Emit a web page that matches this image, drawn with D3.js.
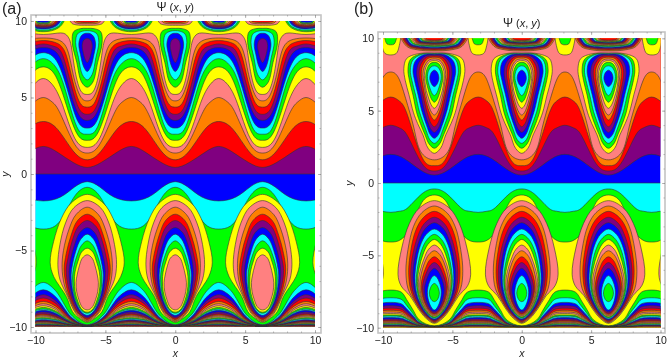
<!DOCTYPE html>
<html>
<head>
<meta charset="utf-8">
<script src="https://cdn.jsdelivr.net/npm/d3@7"></script>
<style>
html, body { margin: 0; padding: 0; background: #fff; }
svg { display: block; filter: blur(0.35px); font-family: "Liberation Sans", Arial, sans-serif; }
</style>
</head>
<body>
<svg id="chart" width="667" height="360"></svg>
<script>
const xTicks = [-10, -5, 0, 5, 10]
const yTicks = [-10, -5, 0, 5, 10]
const minorTicks = d3.range(-10, 11)

// x of the island columns and of the crests between them
const islandCenters = [-12.6, -6.3, 0, 6.25, 12.5]
const crestCenters = [-9.45, -3.15, 3.12, 9.4]

// every curve below is one half period: [distance from island centre, y]
// panel (a), wavy levels above y = 0, each fills upwards
const aUpperNames = ['red', 'orange', 'pink', 'yellow', 'green', 'cyan', 'blue', 'purple', 'red', 'orange', 'pink', 'yellow']
const aUpperCurves = [
    [[0, .43], [1, .75], [2.1, 1.4], [3.14, 1.8]],
    [[0, .93], [1, 1.5], [2.1, 2.9], [3.14, 3.43]],
    [[0, 1.37], [.9, 1.95], [1.9, 3.9], [2.5, 4.7], [3.14, 5]],
    [[0, 1.74], [.9, 2.35], [1.8, 4.6], [2.5, 5.85], [3.14, 6.24]],
    [[0, 2.2], [.8, 2.75], [1.7, 5.1], [2.4, 6.6], [3.14, 7]],
    [[0, 2.6], [.75, 3.1], [1.6, 5.6], [2.3, 7.05], [3.14, 7.54]],
    [[0, 3], [.7, 3.5], [1.45, 5.6], [2.2, 7.4], [3.14, 7.93]],
    [[0, 3.5], [.65, 3.95], [1.3, 5.7], [2, 7.7], [3.14, 8.26]],
    [[0, 3.9], [.6, 4.3], [1.2, 6], [1.8, 7.85], [2.4, 8.35], [3.14, 8.5]],
    [[0, 4.37], [.55, 4.7], [1.1, 6.3], [1.6, 8], [2.3, 8.6], [3.14, 8.72]],
    [[0, 4.78], [.5, 5.1], [1, 6.5], [1.45, 8.2], [2.2, 8.8], [3.14, 8.89]],
    [[0, 5.2], [.5, 5.5], [.9, 6.9], [1.15, 8.4], [1.4, 9], [1.9, 9.22], [3.14, 9.12]]
]
// closed islands in the troughs of (a)
const aUpperLoopNames = ['green', 'cyan', 'blue', 'purple']
const aUpperLoops = [
    [[0, 5.67], [.4, 6], [.75, 7.3], [1.07, 8.6], [.97, 9.3], [.5, 9.5], [0, 9.52]],
    [[0, 6.15], [.35, 6.5], [.62, 7.6], [.83, 8.6], [.7, 9.15], [.35, 9.33], [0, 9.37]],
    [[0, 6.7], [.25, 7], [.48, 7.8], [.6, 8.5], [.45, 9], [.2, 9.18], [0, 9.2]],
    [[0, 7.28], [.15, 7.5], [.3, 8], [.36, 8.4], [.25, 8.75], [0, 8.85]]
]
// small caps on the top edge above the islands of (a)
const aCapNames = ['pink', 'orange', 'red']
const aCaps = [
    [[0, 9.72], [.8, 9.75], [1.1, 9.85], [1.3, 10.3]],
    [[0, 9.82], [.7, 9.85], [.9, 9.93], [1.05, 10.3]],
    [[0, 9.9], [.6, 9.93], [.8, 10], [.9, 10.3]]
]
// rainbow lobes on the top edge above the crests of (a)
const aLobeNames = ['green', 'cyan', 'blue', 'purple', 'red', 'orange', 'pink', 'yellow', 'green', 'cyan', 'blue']
const aLobes = [
    [[0, 9.3], [.8, 9.42], [1.3, 9.72], [1.55, 10.3]],
    [[0, 9.4], [.75, 9.5], [1.2, 9.76], [1.42, 10.3]],
    [[0, 9.48], [.7, 9.58], [1.1, 9.8], [1.3, 10.3]],
    [[0, 9.56], [.65, 9.64], [1, 9.84], [1.18, 10.3]],
    [[0, 9.64], [.6, 9.7], [.9, 9.86], [1.06, 10.3]],
    [[0, 9.7], [.55, 9.75], [.8, 9.88], [.95, 10.3]],
    [[0, 9.75], [.5, 9.8], [.7, 9.9], [.85, 10.3]],
    [[0, 9.79], [.45, 9.83], [.6, 9.92], [.75, 10.3]],
    [[0, 9.83], [.4, 9.86], [.5, 9.94], [.65, 10.3]],
    [[0, 9.87], [.35, 9.9], [.45, 9.96], [.55, 10.3]],
    [[0, 9.91], [.3, 9.93], [.4, 9.97], [.45, 10.3]]
]
// panel (a) below y = 0, each fills downwards
const aLowerNames = ['cyan', 'green']
const aLowerCurves = [
    [[0, -.5], [.9, -.85], [1.9, -1.5], [3.14, -1.76]],
    [[0, -.87], [.9, -1.45], [1.6, -2.6], [2.3, -3.4], [3.14, -3.6]]
]
const aBottomDx = [0, 1.05, 1.5, 2, 2.4, 3.14]
const aBottomNames = ['cyan', 'blue', 'purple', 'red', 'orange', 'pink', 'yellow', 'green', 'cyan', 'blue', 'purple', 'red', 'orange', 'pink', 'yellow', 'green', 'cyan', 'blue', 'purple', 'red', 'orange', 'pink', 'yellow', 'green', 'cyan', 'blue', 'purple', 'red', 'orange', 'pink']
const aBottomY = [
    [-9.85, -9.3, -8.75, -7.96, -7.5, -7.09],
    [-9.88, -9.42, -8.96, -8.3, -7.91, -7.57],
    [-9.89, -9.49, -9.09, -8.52, -8.19, -7.89],
    [-9.91, -9.55, -9.19, -8.68, -8.37, -8.11],
    [-9.92, -9.6, -9.28, -8.83, -8.56, -8.33],
    [-9.92, -9.64, -9.35, -8.94, -8.69, -8.48],
    [-9.93, -9.67, -9.4, -9.03, -8.8, -8.61],
    [-9.94, -9.69, -9.45, -9.1, -8.9, -8.72],
    [-9.94, -9.72, -9.5, -9.18, -8.99, -8.83],
    [-9.95, -9.74, -9.53, -9.24, -9.06, -8.91],
    [-9.95, -9.76, -9.58, -9.31, -9.16, -9.02],
    [-9.96, -9.79, -9.63, -9.39, -9.25, -9.13],
    [-9.96, -9.81, -9.66, -9.44, -9.31, -9.2],
    [-9.96, -9.82, -9.68, -9.48, -9.36, -9.26],
    [-9.97, -9.84, -9.71, -9.53, -9.42, -9.33],
    [-9.97, -9.85, -9.74, -9.57, -9.48, -9.39],
    [-9.97, -9.87, -9.76, -9.61, -9.53, -9.45],
    [-9.98, -9.88, -9.79, -9.66, -9.59, -9.52],
    [-9.98, -9.9, -9.82, -9.71, -9.64, -9.58],
    [-9.98, -9.91, -9.84, -9.74, -9.68, -9.63],
    [-9.98, -9.92, -9.86, -9.77, -9.72, -9.67],
    [-9.99, -9.93, -9.88, -9.8, -9.75, -9.71],
    [-9.99, -9.94, -9.89, -9.82, -9.78, -9.75],
    [-9.99, -9.95, -9.91, -9.85, -9.82, -9.79],
    [-9.99, -9.96, -9.92, -9.87, -9.85, -9.82],
    [-9.99, -9.96, -9.94, -9.9, -9.87, -9.85],
    [-9.99, -9.97, -9.95, -9.92, -9.9, -9.88],
    [-10, -9.98, -9.96, -9.94, -9.92, -9.91],
    [-10, -9.99, -9.97, -9.96, -9.95, -9.94],
    [-10, -9.99, -9.99, -9.98, -9.97, -9.97]
]
const aLowerLoopNames = ['yellow', 'pink', 'orange', 'red', 'purple', 'blue', 'cyan', 'green', 'yellow', 'pink']
const aLowerLoops = [
    [[0, -1.33], [1.15, -1.9], [1.85, -2.9], [2.4, -4.4], [2.65, -5.8], [2.4, -6.7], [1.5, -8], [1.05, -9], [.6, -9.4], [0, -9.7]],
    [[0, -1.74], [.95, -2.2], [1.55, -3.2], [1.95, -4.6], [2.1, -5.9], [1.95, -6.9], [1.4, -8], [.9, -9], [.5, -9.4], [0, -9.65]],
    [[0, -2.17], [.8, -2.65], [1.3, -3.6], [1.7, -5], [1.8, -6.1], [1.65, -7.2], [1.25, -8.2], [.8, -9.05], [.45, -9.35], [0, -9.6]],
    [[0, -2.63], [.7, -3.05], [1.15, -4], [1.5, -5.2], [1.65, -6.2], [1.5, -7.3], [1.15, -8.3], [.75, -9], [.4, -9.3], [0, -9.52]],
    [[0, -3.04], [.65, -3.45], [1.05, -4.3], [1.35, -5.4], [1.5, -6.3], [1.35, -7.4], [1.05, -8.3], [.7, -8.95], [.37, -9.27], [0, -9.43]],
    [[0, -3.5], [.55, -3.85], [.9, -4.6], [1.2, -5.6], [1.3, -6.4], [1.2, -7.5], [.95, -8.3], [.62, -8.9], [.33, -9.2], [0, -9.35]],
    [[0, -3.93], [.45, -4.25], [.8, -5], [1.05, -5.9], [1.15, -6.6], [1.05, -7.6], [.85, -8.3], [.55, -8.85], [.3, -9.12], [0, -9.24]],
    [[0, -4.37], [.4, -4.65], [.72, -5.3], [.97, -6.1], [1.05, -6.8], [.97, -7.7], [.78, -8.35], [.5, -8.8], [.27, -9.02], [0, -9.1]],
    [[0, -4.85], [.4, -5.1], [.66, -5.7], [.87, -6.4], [.92, -7], [.86, -7.7], [.68, -8.3], [.45, -8.78], [.22, -8.98], [0, -9.03]],
    [[0, -5.28], [.35, -5.5], [.56, -6], [.72, -6.6], [.8, -7.1], [.75, -7.7], [.6, -8.2], [.4, -8.65], [.2, -8.83], [0, -8.88]]
]

// panel (b)
const bUpperNames = ['purple', 'red', 'orange', 'pink']
const bUpperCurves = [
    [[0, .55], [1, .9], [2.1, 1.65], [3.14, 1.98]],
    [[0, .83], [.9, 1.35], [1.9, 3.2], [2.5, 3.8], [3.14, 3.99]],
    [[0, 1.2], [.9, 1.8], [1.9, 4.6], [2.5, 5.65], [3.14, 5.94]],
    [[0, 1.6], [1, 2.2], [1.47, 3.8], [2.07, 5.85], [2.6, 7.3], [3.14, 7.67]]
]
const bUpperLoopNames = ['yellow', 'green', 'cyan', 'blue', 'purple', 'red', 'orange', 'pink', 'yellow', 'green', 'cyan', 'blue']
const bUpperLoops = [
    [[0, 2.05], [.45, 2.4], [.82, 3.32], [1.2, 4.1], [1.5, 4.85], [1.83, 6.1], [2.1, 7.1], [2.2, 7.9], [2, 8.6], [1.2, 8.93], [0, 8.98]],
    [[0, 2.4], [.38, 2.7], [.68, 3.35], [1, 4.1], [1.27, 4.85], [1.54, 6.08], [1.8, 7.1], [1.9, 7.85], [1.72, 8.55], [1, 8.92], [0, 8.96]],
    [[0, 2.74], [.33, 3], [.58, 3.6], [.85, 4.3], [1.08, 4.95], [1.35, 6.08], [1.62, 7.1], [1.73, 7.8], [1.55, 8.5], [.9, 8.89], [0, 8.94]],
    [[0, 3.09], [.3, 3.35], [.55, 3.95], [.78, 4.6], [.95, 5.15], [1.17, 6.08], [1.43, 7.1], [1.54, 7.75], [1.38, 8.42], [.8, 8.85], [0, 8.9]],
    [[0, 3.5], [.27, 3.75], [.5, 4.3], [.68, 4.85], [.96, 6.08], [1.18, 7], [1.27, 7.65], [1.13, 8.3], [.65, 8.78], [0, 8.85]],
    [[0, 3.89], [.24, 4.12], [.43, 4.6], [.6, 5.15], [.82, 6.08], [1.03, 7], [1.1, 7.6], [.98, 8.2], [.55, 8.7], [0, 8.78]],
    [[0, 4.35], [.2, 4.55], [.38, 4.95], [.53, 5.4], [.7, 6.08], [.87, 7], [.94, 7.55], [.84, 8.1], [.47, 8.6], [0, 8.69]],
    [[0, 4.7], [.2, 4.88], [.35, 5.2], [.48, 5.6], [.62, 6.15], [.76, 7], [.82, 7.5], [.73, 8], [.4, 8.48], [0, 8.57]],
    [[0, 5.16], [.18, 5.32], [.32, 5.6], [.44, 5.95], [.58, 6.4], [.68, 7], [.72, 7.45], [.63, 7.95], [.35, 8.37], [0, 8.46]],
    [[0, 5.58], [.16, 5.72], [.28, 5.95], [.4, 6.3], [.52, 6.75], [.6, 7.1], [.62, 7.4], [.54, 7.85], [.3, 8.25], [0, 8.34]],
    [[0, 6.04], [.14, 6.16], [.26, 6.4], [.38, 6.75], [.47, 7.1], [.5, 7.35], [.44, 7.7], [.24, 8.02], [0, 8.1]],
    [[0, 6.66], [.12, 6.73], [.23, 6.9], [.31, 7.1], [.33, 7.27], [.28, 7.52], [.15, 7.72], [0, 7.8]]
]
const bLobeNames = ['yellow', 'green']
const bLobes = [
    [[0, 8.85], [.4, 8.95], [.6, 9.4], [.64, 10.3]],
    [[0, 9.55], [.25, 9.6], [.38, 9.85], [.42, 10.3]]
]
const bCapNames = ['orange', 'red', 'purple', 'blue', 'cyan', 'green', 'yellow', 'pink', 'orange', 'red', 'purple', 'blue', 'cyan', 'green', 'yellow', 'pink', 'orange', 'red']
const bCaps = [
    [[0, 9.13], [1.2, 9.2], [2, 9.45], [2.4, 10.3]],
    [[0, 9.2], [1.15, 9.27], [1.92, 9.5], [2.3, 10.3]],
    [[0, 9.27], [1.1, 9.33], [1.84, 9.54], [2.2, 10.3]],
    [[0, 9.33], [1.05, 9.39], [1.76, 9.58], [2.1, 10.3]],
    [[0, 9.39], [1, 9.44], [1.68, 9.62], [2, 10.3]],
    [[0, 9.44], [.95, 9.49], [1.6, 9.65], [1.9, 10.3]],
    [[0, 9.49], [.9, 9.53], [1.5, 9.68], [1.8, 10.3]],
    [[0, 9.53], [.85, 9.57], [1.42, 9.71], [1.7, 10.3]],
    [[0, 9.57], [.8, 9.61], [1.34, 9.74], [1.6, 10.3]],
    [[0, 9.61], [.75, 9.65], [1.26, 9.76], [1.5, 10.3]],
    [[0, 9.65], [.7, 9.68], [1.17, 9.79], [1.4, 10.3]],
    [[0, 9.68], [.65, 9.71], [1.08, 9.81], [1.3, 10.3]],
    [[0, 9.71], [.6, 9.74], [1, 9.84], [1.2, 10.3]],
    [[0, 9.74], [.55, 9.77], [.92, 9.86], [1.1, 10.3]],
    [[0, 9.77], [.5, 9.8], [.84, 9.88], [1, 10.3]],
    [[0, 9.8], [.45, 9.83], [.75, 9.9], [.9, 10.3]],
    [[0, 9.83], [.4, 9.86], [.66, 9.92], [.8, 10.3]],
    [[0, 9.86], [.35, 9.89], [.58, 9.94], [.7, 10.3]]
]
const bLowerNames = ['green', 'yellow']
const bLowerCurves = [
    [[0, -.41], [.9, -.75], [1.9, -1.7], [2.5, -1.95], [3.14, -2.03]],
    [[0, -.83], [.9, -1.35], [1.6, -2.9], [2.4, -3.9], [3.14, -4.08]]
]
const bBottomDx = [0, 1.05, 1.5, 2, 2.4, 3.14]
const bBottomNames = ['green', 'cyan', 'blue', 'purple', 'red', 'orange', 'pink', 'yellow', 'green', 'cyan', 'blue', 'purple', 'red', 'orange', 'pink', 'yellow', 'green', 'cyan', 'blue', 'purple', 'red', 'orange', 'pink', 'yellow']
const bBottomY = [
    [-9.87, -9.48, -8.83, -8.05, -7.53, -7.4],
    [-9.9, -9.59, -9.07, -8.45, -8.03, -7.93],
    [-9.91, -9.65, -9.21, -8.69, -8.34, -8.25],
    [-9.92, -9.7, -9.32, -8.86, -8.56, -8.48],
    [-9.93, -9.73, -9.39, -8.99, -8.72, -8.65],
    [-9.94, -9.76, -9.46, -9.1, -8.86, -8.8],
    [-9.95, -9.78, -9.51, -9.19, -8.97, -8.92],
    [-9.95, -9.8, -9.56, -9.27, -9.07, -9.02],
    [-9.96, -9.82, -9.6, -9.34, -9.16, -9.12],
    [-9.96, -9.84, -9.64, -9.4, -9.24, -9.2],
    [-9.97, -9.86, -9.69, -9.48, -9.34, -9.3],
    [-9.97, -9.88, -9.73, -9.55, -9.43, -9.4],
    [-9.97, -9.9, -9.77, -9.61, -9.51, -9.48],
    [-9.98, -9.91, -9.8, -9.66, -9.57, -9.55],
    [-9.98, -9.92, -9.83, -9.72, -9.64, -9.62],
    [-9.98, -9.93, -9.85, -9.75, -9.69, -9.67],
    [-9.99, -9.94, -9.87, -9.79, -9.73, -9.72],
    [-9.99, -9.95, -9.9, -9.83, -9.78, -9.77],
    [-9.99, -9.96, -9.92, -9.87, -9.83, -9.82],
    [-9.99, -9.97, -9.94, -9.89, -9.86, -9.85],
    [-9.99, -9.97, -9.95, -9.91, -9.89, -9.88],
    [-10, -9.98, -9.96, -9.93, -9.92, -9.91],
    [-10, -9.99, -9.97, -9.96, -9.95, -9.94],
    [-10, -9.99, -9.99, -9.98, -9.97, -9.97]
]
const bLowerLoopNames = ['pink', 'orange', 'red', 'purple', 'blue', 'cyan', 'green', 'yellow', 'pink', 'orange', 'red', 'purple', 'blue', 'cyan', 'green']
const bLowerLoops = [
    [[0, -1.22], [1.1, -1.75], [1.8, -2.8], [2.35, -4.5], [2.62, -6.3], [2.4, -7.1], [1.75, -7.8], [1.15, -8.7], [.6, -9.35], [0, -9.7]],
    [[0, -1.59], [.9, -2.05], [1.5, -3], [1.9, -4.6], [2.05, -6.1], [1.9, -7.3], [1.4, -8.2], [.85, -9], [.45, -9.4], [0, -9.65]],
    [[0, -1.96], [.8, -2.4], [1.35, -3.3], [1.72, -4.8], [1.85, -6.2], [1.7, -7.4], [1.3, -8.3], [.8, -9], [.42, -9.35], [0, -9.6]],
    [[0, -2.37], [.72, -2.8], [1.2, -3.7], [1.56, -5], [1.7, -6.3], [1.55, -7.5], [1.2, -8.3], [.75, -8.98], [.4, -9.3], [0, -9.53]],
    [[0, -2.74], [.65, -3.15], [1.1, -4], [1.42, -5.2], [1.55, -6.5], [1.42, -7.5], [1.1, -8.35], [.7, -8.95], [.38, -9.27], [0, -9.47]],
    [[0, -3.18], [.58, -3.55], [1, -4.3], [1.28, -5.4], [1.4, -6.6], [1.28, -7.6], [1, -8.35], [.65, -8.9], [.35, -9.22], [0, -9.4]],
    [[0, -3.55], [.52, -3.9], [.9, -4.6], [1.17, -5.6], [1.3, -6.7], [1.18, -7.7], [.92, -8.4], [.6, -8.9], [.32, -9.18], [0, -9.33]],
    [[0, -3.9], [.47, -4.25], [.82, -4.95], [1.1, -5.9], [1.22, -6.8], [1.1, -7.7], [.86, -8.4], [.56, -8.87], [.3, -9.13], [0, -9.26]],
    [[0, -4.29], [.43, -4.6], [.75, -5.25], [1.03, -6.1], [1.15, -6.9], [1.03, -7.75], [.8, -8.4], [.52, -8.85], [.28, -9.08], [0, -9.2]],
    [[0, -4.68], [.4, -4.95], [.7, -5.5], [.95, -6.3], [1.05, -7], [.95, -7.8], [.74, -8.4], [.48, -8.8], [.26, -9.03], [0, -9.14]],
    [[0, -5.1], [.36, -5.35], [.62, -5.85], [.85, -6.5], [.95, -7.1], [.86, -7.8], [.67, -8.35], [.44, -8.75], [.24, -8.97], [0, -9.07]],
    [[0, -5.5], [.32, -5.72], [.55, -6.15], [.76, -6.7], [.85, -7.2], [.77, -7.85], [.6, -8.35], [.4, -8.7], [.22, -8.9], [0, -9]],
    [[0, -5.9], [.27, -6.1], [.47, -6.45], [.65, -6.95], [.72, -7.35], [.65, -7.9], [.5, -8.35], [.33, -8.65], [.18, -8.83], [0, -8.9]],
    [[0, -6.4], [.2, -6.55], [.35, -6.85], [.46, -7.2], [.5, -7.55], [.46, -7.95], [.36, -8.3], [.24, -8.55], [.12, -8.72], [0, -8.78]],
    [[0, -6.94], [.15, -7.03], [.26, -7.2], [.33, -7.4], [.36, -7.6], [.33, -7.82], [.26, -8], [.16, -8.13], [.08, -8.18], [0, -8.2]]
]

const colors = {
    blue: '#0000ff', cyan: '#00ffff', green: '#00ff00', yellow: '#ffff00',
    pink: '#ff8080', orange: '#ff8000', red: '#ff0000', purple: '#800080'
}
const lineColor = '#333333'
const frameColor = '#c4c4c4'

const svg = d3.select('#chart')

function drawPanel(cfg) {
    const xScale = d3.scaleLinear().domain([-10, 10]).range([cfg.x0, cfg.x1])
    const yScale = d3.scaleLinear().domain([-10, 10]).range([cfg.y0, cfg.y1])

    const clipId = 'clip-' + cfg.id
    svg.append('clipPath').attr('id', clipId).append('rect')
        .attr('x', cfg.x0).attr('y', cfg.y1)
        .attr('width', cfg.x1 - cfg.x0).attr('height', cfg.y0 - cfg.y1)

    const plot = svg.append('g').attr('clip-path', `url(#${clipId})`)

    const wave = d3.line().x(d => xScale(d[0])).y(d => yScale(d[1])).curve(d3.curveNatural)
    const ring = d3.line().x(d => xScale(d[0])).y(d => yScale(d[1])).curve(d3.curveCatmullRomClosed.alpha(0.5))

    // repeat a half period around every island column
    function wavePoints(half) {
        let pts = []
        islandCenters.forEach((c, i) => {
            half.slice().reverse().forEach(p => pts.push([c - p[0], p[1]]))
            half.slice(1, i === islandCenters.length - 1 ? half.length : half.length - 1)
                .forEach(p => pts.push([c + p[0], p[1]]))
        })
        return pts
    }

    function band(half, name, edge) {
        const pts = wavePoints(half)
        const first = pts[0][0], last = pts[pts.length - 1][0]
        plot.append('path')
            .attr('d', wave(pts) + `L${xScale(last)},${yScale(edge)}L${xScale(first)},${yScale(edge)}Z`)
            .attr('fill', colors[name])
            .attr('stroke', lineColor)
            .attr('stroke-width', cfg.lineWidth)
    }

    function loop(cx, half, name) {
        const right = half.map(p => [cx + p[0], p[1]])
        const left = half.filter(p => p[0] > 0).reverse().map(p => [cx - p[0], p[1]])
        plot.append('path')
            .attr('d', ring(right.concat(left)))
            .attr('fill', colors[name])
            .attr('stroke', lineColor)
            .attr('stroke-width', cfg.lineWidth)
    }

    // base colours either side of y = 0
    plot.append('rect').attr('x', cfg.x0).attr('width', cfg.x1 - cfg.x0)
        .attr('y', cfg.y1).attr('height', yScale(0) - cfg.y1).attr('fill', colors[cfg.baseAbove])
    plot.append('rect').attr('x', cfg.x0).attr('width', cfg.x1 - cfg.x0)
        .attr('y', yScale(0)).attr('height', cfg.y0 - yScale(0)).attr('fill', colors[cfg.baseBelow])

    cfg.upperCurves.forEach((c, i) => band(c, cfg.upperNames[i], 10.5))
    cfg.lowerCurves.forEach((c, i) => band(c, cfg.lowerNames[i], -10.5))
    cfg.bottomY.forEach((ys, i) => {
        band(ys.map((y, j) => [cfg.bottomDx[j], y]), cfg.bottomNames[i], -10.5)
    })
    islandCenters.forEach(c => {
        cfg.lowerLoops.forEach((l, i) => loop(c, l, cfg.lowerLoopNames[i]))
        cfg.upperLoops.forEach((l, i) => loop(c, l, cfg.upperLoopNames[i]))
        cfg.caps.forEach((l, i) => loop(c, l, cfg.capNames[i]))
    })
    crestCenters.forEach(c => {
        cfg.lobes.forEach((l, i) => loop(c, l, cfg.lobeNames[i]))
    })
    plot.append('line').attr('x1', cfg.x0).attr('x2', cfg.x1)
        .attr('y1', yScale(0)).attr('y2', yScale(0))
        .attr('stroke', lineColor).attr('stroke-width', cfg.lineWidth)

    // frame sits a little outside of the plot area
    const f = cfg.frame
    svg.append('rect').attr('x', f.left).attr('y', f.top)
        .attr('width', f.right - f.left).attr('height', f.bottom - f.top)
        .attr('fill', 'none').attr('stroke', frameColor).attr('stroke-width', 1.6)

    function styleAxis(g) {
        g.select('.domain').remove()
        g.selectAll('.tick line').attr('stroke', '#8c8c8c').attr('stroke-width', .6)
        g.selectAll('.tick text').attr('fill', '#222').attr('font-size', 10.5)
            .attr('font-family', '"Liberation Sans", Arial, sans-serif')
    }
    const sides = [
        [d3.axisBottom(xScale), `translate(0,${f.bottom})`, xTicks, true],
        [d3.axisLeft(yScale), `translate(${f.left},0)`, yTicks, true],
        [d3.axisTop(xScale), `translate(0,${f.top})`, xTicks, false],
        [d3.axisRight(yScale), `translate(${f.right},0)`, yTicks, false]
    ]
    sides.forEach(s => {
        // minor first, then the major ones with the labels
        svg.append('g').attr('transform', s[1])
            .call(s[0].tickValues(minorTicks).tickSize(-1.5).tickFormat(''))
            .call(styleAxis)
        svg.append('g').attr('transform', s[1])
            .call(s[0].tickValues(s[2]).tickSize(-3).tickPadding(4)
                .tickFormat(s[3] ? d3.format('d') : ''))
            .call(styleAxis)
    })

    const title = svg.append('text')
        .attr('x', xScale(0)).attr('y', cfg.titleY)
        .attr('text-anchor', 'middle').attr('font-size', 11).attr('fill', '#222')
    title.append('tspan').attr('font-size', 12).text('Ψ')
    title.append('tspan').text(' (')
    title.append('tspan').attr('font-style', 'italic').text('x')
    title.append('tspan').text(', ')
    title.append('tspan').attr('font-style', 'italic').text('y')
    title.append('tspan').text(')')

    svg.append('text').attr('x', xScale(0)).attr('y', 357)
        .attr('text-anchor', 'middle').attr('font-size', 10.5).attr('font-style', 'italic').attr('fill', '#222')
        .text('x')
    svg.append('text')
        .attr('transform', `translate(${cfg.yLabelX},${yScale(0)}) rotate(-90)`)
        .attr('text-anchor', 'middle').attr('font-size', 10.5).attr('font-style', 'italic').attr('fill', '#222')
        .text('y')
    svg.append('text').attr('x', cfg.tagX).attr('y', 13.5)
        .attr('font-size', 16).attr('fill', '#222').text(cfg.tag)
}

drawPanel({
    id: 'a', tag: '(a)', tagX: 2, titleY: 11, yLabelX: 9, lineWidth: .6,
    x0: 35.5, x1: 315, y0: 327, y1: 21,
    frame: {left: 31, right: 321, top: 15, bottom: 333},
    baseAbove: 'purple', baseBelow: 'blue',
    upperCurves: aUpperCurves, upperNames: aUpperNames,
    upperLoops: aUpperLoops, upperLoopNames: aUpperLoopNames,
    lowerCurves: aLowerCurves, lowerNames: aLowerNames,
    bottomDx: aBottomDx, bottomY: aBottomY, bottomNames: aBottomNames,
    lowerLoops: aLowerLoops, lowerLoopNames: aLowerLoopNames,
    caps: aCaps, capNames: aCapNames, lobes: aLobes, lobeNames: aLobeNames
})
drawPanel({
    id: 'b', tag: '(b)', tagX: 354, titleY: 27, yLabelX: 353, lineWidth: .6,
    x0: 383, x1: 660.5, y0: 327.7, y1: 38.3,
    frame: {left: 378, right: 665, top: 32, bottom: 333},
    baseAbove: 'blue', baseBelow: 'cyan',
    upperCurves: bUpperCurves, upperNames: bUpperNames,
    upperLoops: bUpperLoops, upperLoopNames: bUpperLoopNames,
    lowerCurves: bLowerCurves, lowerNames: bLowerNames,
    bottomDx: bBottomDx, bottomY: bBottomY, bottomNames: bBottomNames,
    lowerLoops: bLowerLoops, lowerLoopNames: bLowerLoopNames,
    caps: bCaps, capNames: bCapNames, lobes: bLobes, lobeNames: bLobeNames
})
</script>
</body>
</html>
